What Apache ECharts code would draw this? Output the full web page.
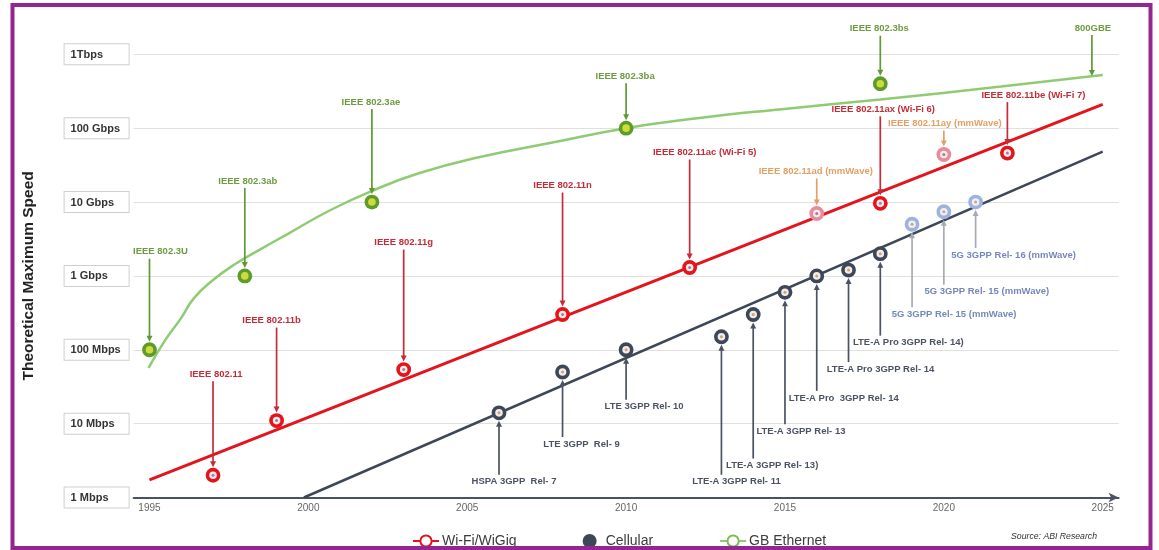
<!DOCTYPE html>
<html>
<head>
<meta charset="utf-8">
<script src="https://cdn.jsdelivr.net/npm/echarts@6/dist/echarts.min.js"></script>
<style>
  html, body { margin: 0; padding: 0; background: #fff; }
  #main { width: 1159px; height: 550px; }
</style>
</head>
<body>
<div id="main"></div>
<script>
// all speeds in Mbps
var yearTicks = [1995, 2000, 2005, 2010, 2015, 2020, 2025];
var speedLabels = ['1 Mbps', '10 Mbps', '100 Mbps', '1 Gbps', '10 Gbps', '100 Gbps', '1Tbps'];

var wifiTrendYears = [1995, 2025];
var wifiTrendSpeeds = [1.73, 210000];
var cellTrendYears = [1999.86, 2025];
var cellTrendSpeeds = [1, 48000];
var ethCurveYears = [1994.97, 1995.5, 1996, 1996.4, 1997, 1997.7, 1998.5, 1999.4, 2000.7, 2002,
  2003.5, 2005.4, 2007.6, 2010, 2012.3, 2014.9, 2018, 2021.8, 2025];
var ethCurveSpeeds = [57, 136, 270, 500, 880, 1450, 2300, 3800, 7800, 14100,
  24700, 40700, 63000, 100000, 137000, 181000, 245000, 366000, 525000];

var wifiNames = ['IEEE 802.11', 'IEEE 802.11b', 'IEEE 802.11g', 'IEEE 802.11n', 'IEEE 802.11ac (Wi-Fi 5)',
  'IEEE 802.11ad (mmWave)', 'IEEE 802.11ax (Wi-Fi 6)', 'IEEE 802.11ay (mmWave)', 'IEEE 802.11be (Wi-Fi 7)'];
var wifiYears = [1997, 1999, 2003, 2008, 2012, 2016, 2018, 2020, 2022];
var wifiSpeeds = [2, 11, 54, 300, 1300, 7000, 9600, 44000, 46000];

var cellNames = ['HSPA 3GPP  Rel- 7', 'LTE 3GPP  Rel- 9', 'LTE 3GPP Rel- 10', 'LTE-A 3GPP Rel- 11',
  'LTE-A 3GPP Rel- 13)', 'LTE-A 3GPP Rel- 13', 'LTE-A Pro  3GPP Rel- 14', 'LTE-A Pro 3GPP Rel- 14',
  'LTE-A Pro 3GPP Rel- 14)', '5G 3GPP Rel- 15 (mmWave)', '5G 3GPP Rel- 15 (mmWave)', '5G 3GPP Rel- 16 (mmWave)'];
var cellYears = [2006, 2008, 2010, 2013, 2014, 2015, 2016, 2017, 2018, 2019, 2020, 2021];
var cellSpeeds = [14, 50, 100, 150, 300, 600, 1000, 1200, 2000, 5000, 7400, 10000];

var ethNames = ['IEEE 802.3U', 'IEEE 802.3ab', 'IEEE 802.3ae', 'IEEE 802.3ba', 'IEEE 802.3bs', '800GBE'];
var ethYears = [1995, 1998, 2002, 2010, 2018, 2024.66];
var ethSpeeds = [100, 1000, 10000, 100000, 400000, 508000];

// callout label offsets from the point, in px ('bare' = arrow only, no dot)
var wifiCallouts = [[3, -101], [-5, -100], [0, -127], [0, -129], [15, -115], [-1, -42], [3, -94], [1, -31], [26, -58]];
var cellCallouts = [[15, 69], [19, 72], [18, 57], [15, 145], [19, 151], [16, 139], [27, 122], [32, 99], [28, 89], [42, 90], [43, 80], [38, 53]];
var ethCallouts = [[11, -98], [3, -95], [-1, -100], [-1, -52], [-1, -55], [1, -48, 'bare']];

var skins = {
  wifi:  { ring: '#e3141c', inner: '#fbe9ea', dot: '#8c86a8', text: '#c42d37', arrow: '#c42d37' },
  wigig: { ring: '#e98b9b', inner: '#fbe9ea', dot: '#8c86a8', text: '#e2a066', arrow: '#e2a066' },
  cell:  { ring: '#3d4757', inner: '#f2ece6', dot: '#d2a07e', text: '#4b5363', arrow: '#4b5363' },
  fiveg: { ring: '#9fb2dd', inner: '#eef0f8', dot: '#d4a07e', text: '#7489bb', arrow: '#a7abb4' },
  eth:   { ring: '#5f9b2b', inner: '#cddc3c', dot: '#cddc3c', text: '#6d9b40', arrow: '#5e9a35' }
};

function pairs(xs, ys) {
  return xs.map(function (x, i) { return [x, ys[i]]; });
}

function calloutSeries(name, years, speeds, names, layout, pickSkin) {
  return {
    name: name,
    type: 'custom',
    silent: true,
    clip: false,
    z: 4,
    data: years.map(function (y, i) { return [y, speeds[i], i]; }),
    renderItem: function (params, api) {
      var i = api.value(2);
      var p = api.coord([api.value(0), api.value(1)]);
      var lay = layout[i];
      var s = pickSkin(names[i]);
      var bare = lay[2] === 'bare';
      var lx = p[0] + lay[0], ly = p[1] + lay[1];
      var dir = lay[1] < 0 ? 1 : -1;
      var ya = ly + dir * 7;
      var yb = p[1] - dir * (bare ? 0 : 8);
      var kids = [
        { type: 'line', shape: { x1: p[0], y1: ya, x2: p[0], y2: yb - dir * 4 },
          style: { stroke: s.arrow, lineWidth: 1.7 } },
        { type: 'polygon', shape: { points: [[p[0] - 3, yb - dir * 6], [p[0] + 3, yb - dir * 6], [p[0], yb]] },
          style: { fill: s.arrow } },
        { type: 'text', x: lx, y: ly,
          style: { text: names[i], fill: s.text, fontSize: 9.5, fontWeight: 'bold',
                   fontFamily: 'Liberation Sans', align: 'center', verticalAlign: 'middle' } }
      ];
      if (!bare) {
        kids.push({ type: 'circle', shape: { cx: p[0], cy: p[1], r: 7.4 }, style: { fill: s.ring } });
        kids.push({ type: 'circle', shape: { cx: p[0], cy: p[1], r: 3.8 }, style: { fill: s.inner } });
        kids.push({ type: 'circle', shape: { cx: p[0], cy: p[1], r: 1.5 }, style: { fill: s.dot } });
      }
      return { type: 'group', children: kids };
    }
  };
}

var myChart = echarts.init(document.getElementById('main'));
var option = {
  backgroundColor: '#fff',
  textStyle: { fontFamily: 'Liberation Sans' },
  animation: false,
  grid: { left: 133.6, right: 40.4, top: 54.3, bottom: 52.5, outerBoundsMode: 'none' },
  legend: {
    left: 407, top: 529, itemWidth: 26, itemHeight: 14, itemGap: 66,
    itemStyle: { borderWidth: 3 },
    textStyle: { fontSize: 14, color: '#3c3c3c', padding: [0, 0, 0, -2] },
    data: [{ name: 'Wi-Fi/WiGig' }, { name: 'Cellular', icon: 'circle' }, { name: 'GB Ethernet' }]
  },
  xAxis: {
    type: 'value', min: 1994.5, max: 2025.5,
    splitLine: { show: false },
    axisTick: { show: false },
    axisLine: { lineStyle: { color: '#4a5160', width: 2 }, symbol: ['none', 'arrow'], symbolSize: [7, 10] },
    axisLabel: { customValues: yearTicks, color: '#666', fontSize: 10, margin: 6,
                 formatter: function (v) { return String(v); } }
  },
  yAxis: {
    type: 'log', logBase: 10, min: 1, max: 1000000,
    name: 'Theoretical Maximum Speed', nameLocation: 'middle', nameGap: 97, nameRotate: 90,
    nameTextStyle: { fontSize: 15.5, fontWeight: 'bold', color: '#222' },
    axisLine: { show: false },
    axisTick: { show: false },
    splitLine: { lineStyle: { color: '#e0e0e0', width: 1 } },
    axisLabel: {
      margin: 5,
      padding: [5, 6, 4, 6],
      borderColor: '#cfcfcf', borderWidth: 1, backgroundColor: '#fff',
      formatter: function (v) {
        return '{b|' + speedLabels[Math.round(Math.log10(v))] + '}';
      },
      rich: { b: { width: 52, align: 'left', fontSize: 11, fontWeight: 'bold', color: '#333' } }
    }
  },
  series: [
    { name: 'Wi-Fi/WiGig', type: 'line', data: pairs(wifiTrendYears, wifiTrendSpeeds),
      symbol: 'emptyCircle', symbolSize: 10, showSymbol: false, silent: true,
      lineStyle: { color: '#e3141c', width: 3 }, itemStyle: { color: '#e3141c', borderWidth: 3 } },
    { name: 'Cellular', type: 'line', data: pairs(cellTrendYears, cellTrendSpeeds),
      symbol: 'none', silent: true,
      lineStyle: { color: '#3d4757', width: 2.5 }, itemStyle: { color: '#3d4757' } },
    { name: 'GB Ethernet', type: 'line', data: pairs(ethCurveYears, ethCurveSpeeds),
      smooth: true,
      symbol: 'emptyCircle', symbolSize: 10, showSymbol: false, silent: true,
      lineStyle: { color: '#8fcb72', width: 2.5 }, itemStyle: { color: '#7bbf4e', borderWidth: 3 } },
    calloutSeries('Wi-Fi/WiGig', wifiYears, wifiSpeeds, wifiNames, wifiCallouts,
      function (n) { return n.indexOf('mmWave') >= 0 ? skins.wigig : skins.wifi; }),
    calloutSeries('Cellular', cellYears, cellSpeeds, cellNames, cellCallouts,
      function (n) { return n.indexOf('5G') === 0 ? skins.fiveg : skins.cell; }),
    calloutSeries('GB Ethernet', ethYears, ethSpeeds, ethNames, ethCallouts,
      function () { return skins.eth; })
  ],
  graphic: [
    { type: 'text', right: 62, top: 532, z: 10,
      style: { text: 'Source: ABI Research', fontStyle: 'italic', fontSize: 8.7,
               fontFamily: 'Liberation Sans', fill: '#333' } },
    { type: 'rect', z: 100, silent: true,
      shape: { x: 12.5, y: 5, width: 1138, height: 543 },
      style: { fill: 'none', stroke: '#93278f', lineWidth: 4 } }
  ]
};
myChart.setOption(option);
window.addEventListener('resize', function () { myChart.resize(); });
</script>
</body>
</html>
